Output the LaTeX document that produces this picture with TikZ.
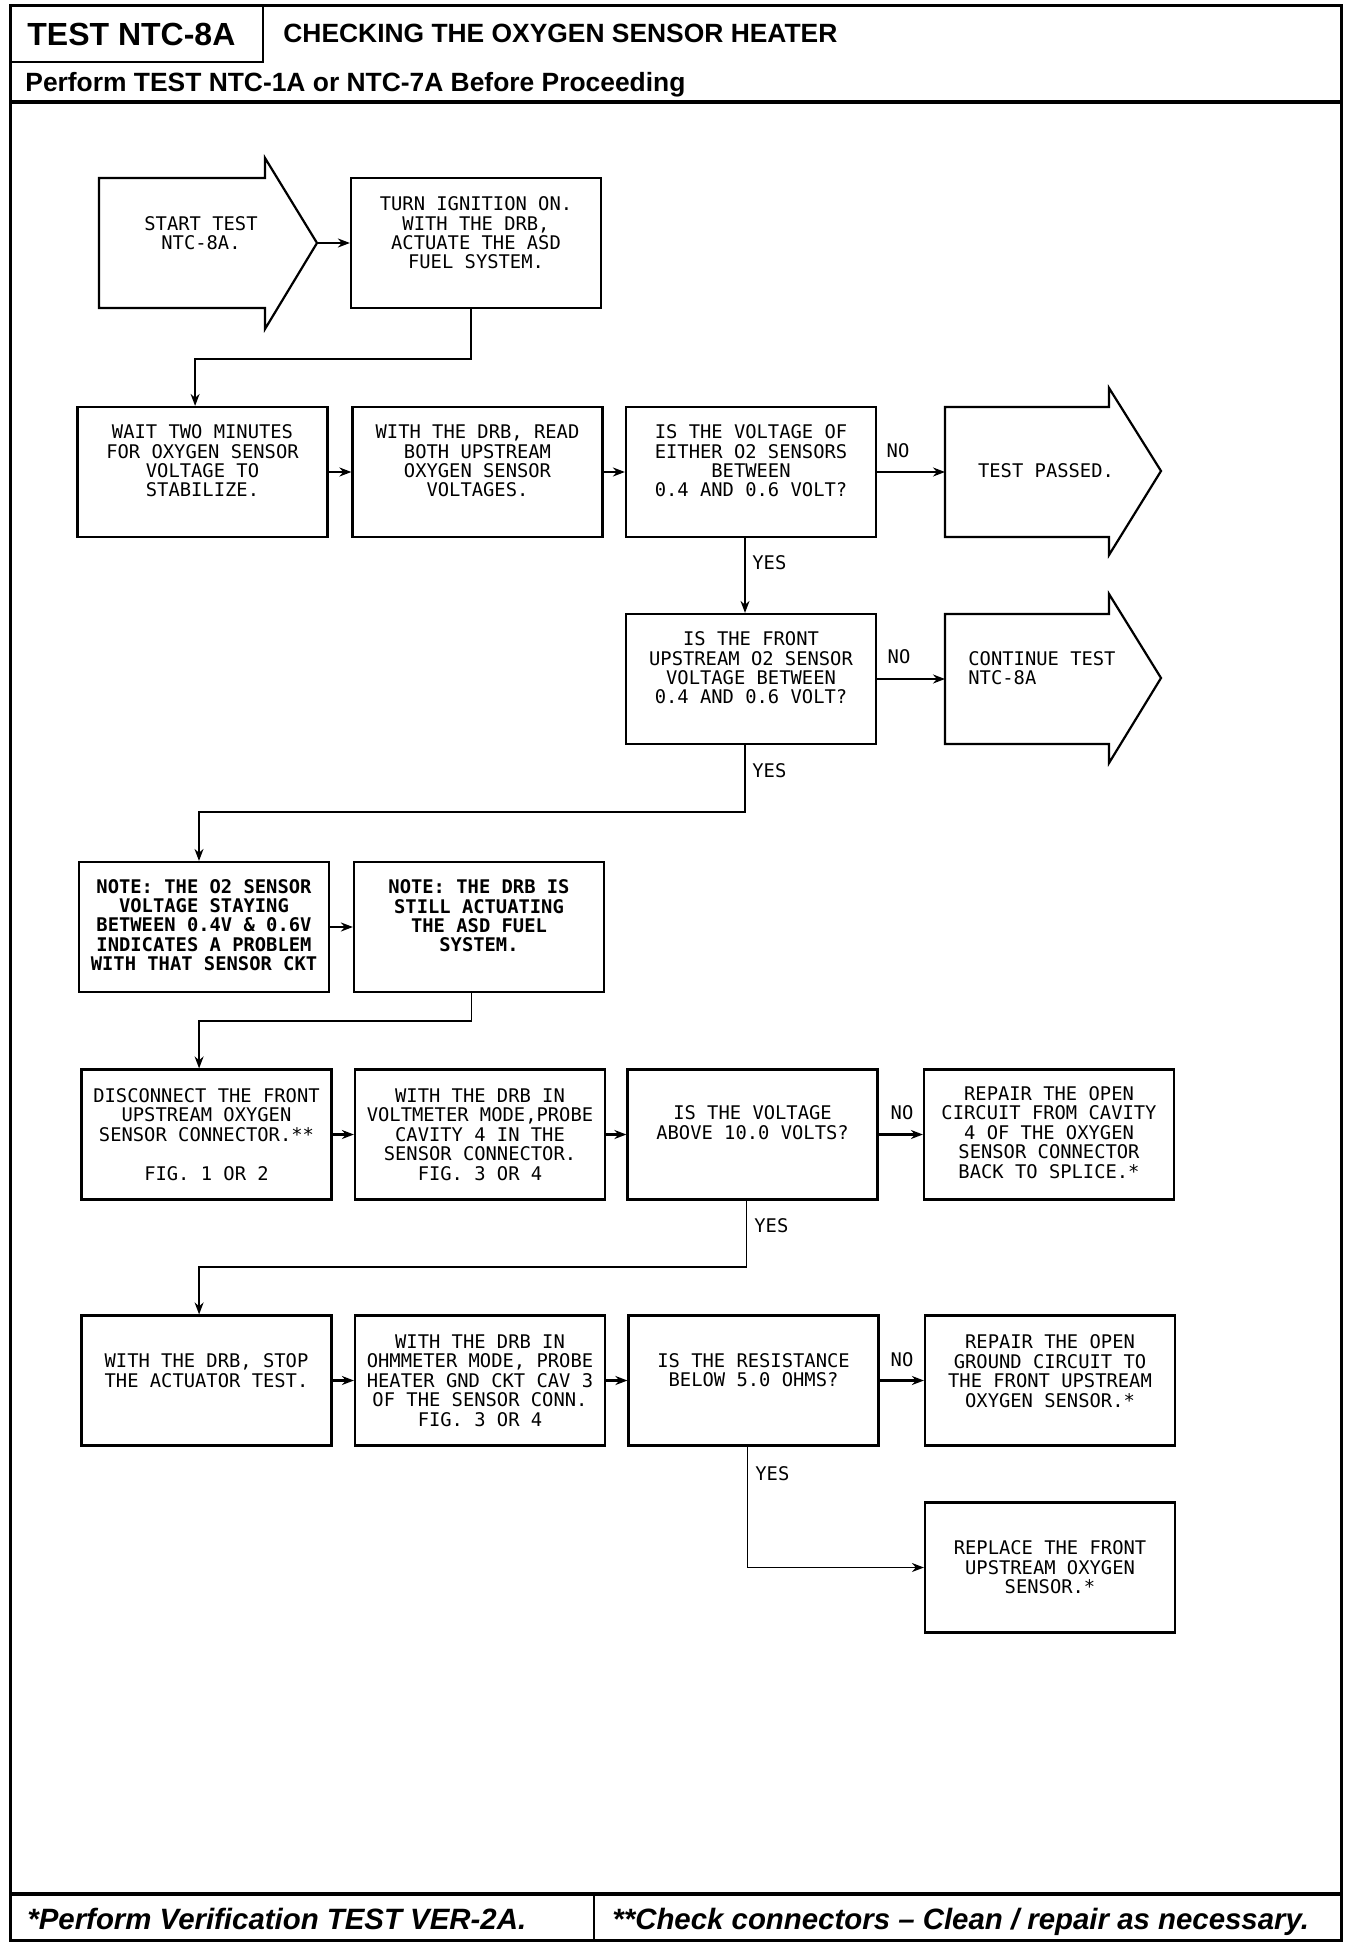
\documentclass[tikz,border=0pt]{standalone}
\usepackage{fontspec}
\setmainfont{Liberation Sans}
\newfontfamily\plotfont{DejaVu Sans Mono}
\usetikzlibrary{arrows.meta}
\begin{document}
\begin{tikzpicture}[x=0.5pt,y=-0.5pt,
  box/.style={draw,line width=1.1pt,minimum width=125pt,minimum height=65pt,inner sep=0pt},
  txt/.style={font=\plotfont\fontsize{9.4}{9.7}\selectfont,align=center,inner sep=0pt},
  btxt/.style={font=\plotfont\bfseries\fontsize{9.4}{9.7}\selectfont,align=center,inner sep=0pt},
  link/.style={line width=1.4pt,-{Stealth[length=6pt,width=4.5pt]}},
  elbow/.style={line width=0.8pt,-{Stealth[length=6pt,width=4.5pt]}},
  lbl/.style={font=\plotfont\fontsize{9.4}{9.7}\selectfont,inner sep=0pt},
  shp/.style={line width=1.1pt},
  hdr/.style={font=\bfseries\fontsize{13.2}{15}\selectfont,inner sep=0pt,anchor=base west},
  ftr/.style={font=\bfseries\itshape\fontsize{14.7}{16}\selectfont,inner sep=0pt,anchor=base west}
  ]
\useasboundingbox (0,0) rectangle (1360,1946);
% frame
\draw[line width=1.5pt] (10,6) rectangle (1341,1940);
\draw[line width=1.1pt] (10,62) -- (263,62) -- (263,6);
\draw[line width=2pt] (10,102) -- (1341,102);
\draw[line width=2pt] (10,1894) -- (1341,1894);
\draw[line width=1.1pt] (594,1894) -- (594,1940);
\node[hdr,font=\bfseries\fontsize{16}{18}\selectfont] (hd) at (27,46) {TEST NTC-8A};
\node[hdr] (ttl) at (283,43) {CHECKING THE OXYGEN SENSOR HEATER};
\node[hdr] (sub) at (25,92) {Perform TEST NTC-1A or NTC-7A Before Proceeding};
\node[ftr] (f1) at (27,1929) {*Perform Verification TEST VER-2A.};
\node[ftr] (f2) at (612,1929) {**Check connectors -- Clean / repair as necessary.};
% start arrow
\draw[shp] (99,178) -- (265,178) -- (265,158) -- (317,243) -- (265,329) -- (265,308) -- (99,308) -- cycle;
\coordinate (s1tip) at (317,243);
\node[txt] (t1) at (201,233) {START TEST\\NTC-8A.};
% boxes
\node[box] (b2) at (476,243) {};
\node[txt,yshift=5pt] (t2) at (b2.center) {TURN IGNITION ON.\\WITH THE DRB,\\ACTUATE THE ASD\\FUEL SYSTEM.};
\node[box] (b3) at (202.5,472) {};
\node[txt,yshift=5.5pt] (t3) at (b3.center) {WAIT TWO MINUTES\\FOR OXYGEN SENSOR\\VOLTAGE TO\\STABILIZE.};
\node[box] (b4) at (477.5,472) {};
\node[txt,yshift=5.5pt] (t4) at (b4.center) {WITH THE DRB, READ\\BOTH UPSTREAM\\OXYGEN SENSOR\\VOLTAGES.};
\node[box] (b5) at (751,472) {};
\node[txt,yshift=5.5pt] (t5) at (b5.center) {IS THE VOLTAGE OF\\EITHER O2 SENSORS\\BETWEEN\\0.4 AND 0.6 VOLT?};
% test passed
\draw[shp] (945,407) -- (1109,407) -- (1109,388) -- (1161,471) -- (1109,555) -- (1109,537) -- (945,537) -- cycle;
\coordinate (p6w) at (945,472);
\node[txt] (t6) at (1046,471) {TEST PASSED.};
\node[box] (b7) at (751,679) {};
\node[txt,yshift=5.5pt] (t7) at (b7.center) {IS THE FRONT\\UPSTREAM O2 SENSOR\\VOLTAGE BETWEEN\\0.4 AND 0.6 VOLT?};
% continue
\draw[shp] (945,614) -- (1109,614) -- (1109,594) -- (1161,678) -- (1109,763) -- (1109,744) -- (945,744) -- cycle;
\coordinate (p7w) at (945,679);
\node[txt,align=left,anchor=north west] (t7c) at (968,651) {CONTINUE TEST\\NTC-8A};
\node[box] (b8) at (204,927) {};
\node[btxt,yshift=1pt] (t8) at (b8.center) {NOTE: THE O2 SENSOR\\VOLTAGE STAYING\\BETWEEN 0.4V \& 0.6V\\INDICATES A PROBLEM\\WITH THAT SENSOR CKT};
\node[box] (b9) at (479,927) {};
\node[btxt,yshift=5.5pt] (t9) at (b9.center) {NOTE: THE DRB IS\\STILL ACTUATING\\THE ASD FUEL\\SYSTEM.};
\node[box] (b10) at (206.5,1134.5) {};
\node[txt] (t10) at (b10.center) {DISCONNECT THE FRONT\\UPSTREAM OXYGEN\\SENSOR CONNECTOR.**\\[9.7pt]FIG. 1 OR 2};
\node[box] (b11) at (480,1134.5) {};
\node[txt] (t11) at (b11.center) {WITH THE DRB IN\\VOLTMETER MODE,PROBE\\CAVITY 4 IN THE\\SENSOR CONNECTOR.\\FIG. 3 OR 4};
\node[box] (b12) at (752.5,1134.5) {};
\node[txt,yshift=6pt] (t12) at (b12.center) {IS THE VOLTAGE\\ABOVE 10.0 VOLTS?};
\node[box] (b13) at (1049,1134.5) {};
\node[txt,yshift=1pt] (t13) at (b13.center) {REPAIR THE OPEN\\CIRCUIT FROM CAVITY\\4 OF THE OXYGEN\\SENSOR CONNECTOR\\BACK TO SPLICE.*};
\node[box] (b14) at (206.5,1380.5) {};
\node[txt,yshift=5pt] (t14) at (b14.center) {WITH THE DRB, STOP\\THE ACTUATOR TEST.};
\node[box] (b15) at (480,1380.5) {};
\node[txt] (t15) at (b15.center) {WITH THE DRB IN\\OHMMETER MODE, PROBE\\HEATER GND CKT CAV 3\\OF THE SENSOR CONN.\\FIG. 3 OR 4};
\node[box] (b16) at (753.5,1380.5) {};
\node[txt,yshift=5.3pt] (t16) at (b16.center) {IS THE RESISTANCE\\BELOW 5.0 OHMS?};
\node[box] (b17) at (1050,1380.5) {};
\node[txt,yshift=4.7pt] (t17) at (b17.center) {REPAIR THE OPEN\\GROUND CIRCUIT TO\\THE FRONT UPSTREAM\\OXYGEN SENSOR.*};
\node[box] (b18) at (1050,1567.5) {};
\node[txt] (t18) at (b18.center) {REPLACE THE FRONT\\UPSTREAM OXYGEN\\SENSOR.*};
% connectors
\draw[link] (s1tip) -- (b2.west);
\draw[elbow] ([xshift=-2.5pt]b2.south) -- ++(0,50) -| ([xshift=-3.7pt]b3.north);
\draw[link] (b3.east) -- (b4.west);
\draw[link] (b4.east) -- (b5.west);
\draw[link] (b5.east) -- (b5.east -| p6w);
\draw[elbow] ([xshift=-3pt]b5.south) -- ([xshift=-3pt]b7.north);
\draw[link] (b7.east) -- (b7.east -| p7w);
\draw[elbow] ([xshift=-3pt]b7.south) -- ++(0,67) -| ([xshift=-2.5pt]b8.north);
\draw[link] (b8.east) -- (b9.west);
\draw[elbow] ([xshift=-3.7pt]b9.south) -- ++(0,28) -| ([xshift=-3.7pt]b10.north);
\draw[link] (b10.east) -- (b11.west);
\draw[link] (b11.east) -- (b12.west);
\draw[link] (b12.east) -- (b13.west);
\draw[elbow] ([xshift=-3pt]b12.south) -- ++(0,66.5) -| ([xshift=-3.7pt]b14.north);
\draw[link] (b14.east) -- (b15.west);
\draw[link] (b15.east) -- (b16.west);
\draw[link] (b16.east) -- (b17.west);
\draw[elbow] ([xshift=-3pt]b16.south) |- (b18.west);
% labels
\node[lbl] (n1) at (898,451) {NO};
\node[lbl] (n2) at (899,657) {NO};
\node[lbl] (n3) at (902,1113) {NO};
\node[lbl] (n4) at (902,1360) {NO};
\node[lbl,anchor=west] (y1) at (752,563) {YES};
\node[lbl,anchor=west] (y2) at (752,771) {YES};
\node[lbl,anchor=west] (y3) at (754,1226) {YES};
\node[lbl,anchor=west] (y4) at (755,1474) {YES};
\end{tikzpicture}
\end{document}
